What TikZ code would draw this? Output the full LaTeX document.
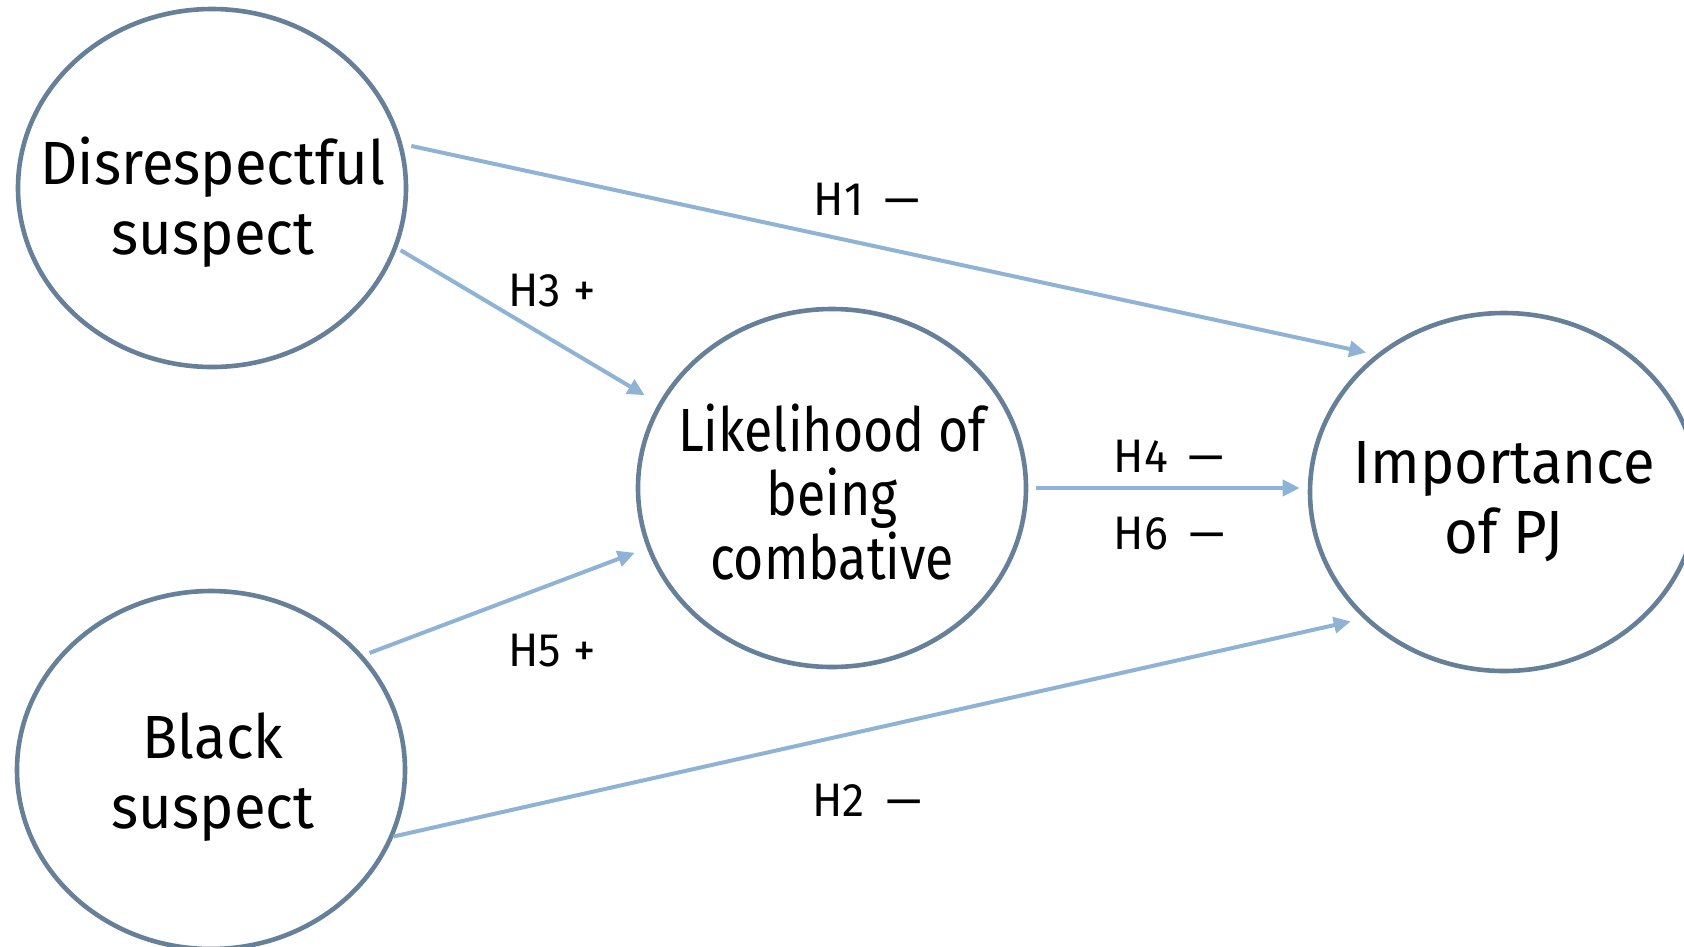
\documentclass[tikz,border=0pt]{standalone}
\usepackage{fontspec}
\setmainfont{Fira Sans}[FakeStretch=0.95]
\newfontfamily\narrowf{Fira Sans}[FakeStretch=0.85]
\usetikzlibrary{shapes.geometric,arrows.meta}
\definecolor{ringc}{HTML}{67809A}
\definecolor{arrowc}{HTML}{8FB3D5}
\tikzset{
  bub/.style={ellipse, draw=ringc, line width=4.6pt, minimum width=388pt, minimum height=358pt, inner sep=0pt, fill=white},
  txt/.style={align=center, font=\fontsize{61}{70}\selectfont, inner sep=0pt},
  hyp/.style={font=\fontsize{47}{54}\selectfont, inner sep=0pt},
  arr/.style={draw=arrowc, line width=4pt, -{Triangle[length=17pt,width=16pt]}}
}
\begin{document}
\begin{tikzpicture}[x=1pt,y=-1pt]
\useasboundingbox (0,0) rectangle (1684,946);
\node[bub] (dis) at (212,188) {};
\node[bub] (blk) at (211,770) {};
\node[bub] (lik) at (832,488) {};
\node[bub] (imp) at (1504,492) {};
\node[txt] (tdis) at (213,202) {Disrespectful\\suspect};
\node[txt] (tblk) at (213,777) {Black\\suspect};
\node[txt, font=\narrowf\fontsize{61}{64}\selectfont] (tlik) at (832,492) {Likelihood of\\being\\combative};
\node[txt] (timp) at (1504,502) {Importance\\of PJ};
\draw[arr, shorten <=9pt, shorten >=10pt] (dis.13.4) -- (imp.133.6);
\draw[arr, shorten <=4pt, shorten >=16pt] (dis.-18.4) -- (lik.154.9);
\draw[arr, shorten <=7pt, shorten >=13pt] (blk.37.5) -- (lik.198.4);
\draw[arr, shorten <=0pt, shorten >=13pt] (blk.-20.3) -- (imp.222.4);
\draw[arr, shorten <=8pt, shorten >=8pt] (lik.0) -- (lik.0 -| imp.west);
\node[hyp] (h1) at (867,199) {H1\hspace{0.45em}—};
\node[hyp] (h3) at (552,291) {H3 +};
\node[hyp] (h5) at (552,651) {H5 +};
\node[hyp] (h4) at (1169,456) {H4\hspace{0.45em}—};
\node[hyp] (h6) at (1169,534) {H6\hspace{0.45em}—};
\node[hyp] (h2) at (867,800) {H2\hspace{0.45em}—};
\end{tikzpicture}
\end{document}
